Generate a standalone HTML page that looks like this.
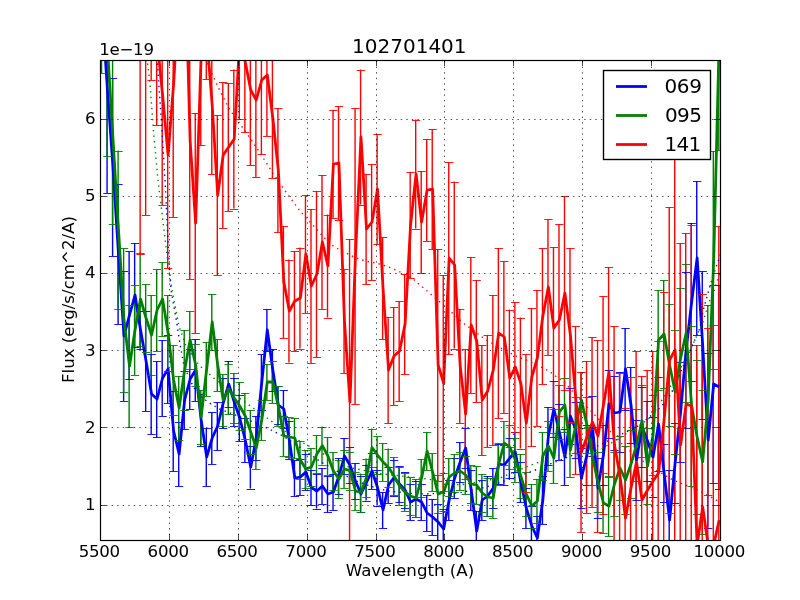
<!DOCTYPE html><html><head><meta charset="utf-8"><style>html,body{margin:0;padding:0;background:#fff;}svg{display:block;}text{font-family:"DejaVu Sans","Liberation Sans",sans-serif;fill:#000;}</style></head><body>
<svg width="800" height="600" viewBox="0 0 800 600">
<rect x="0" y="0" width="800" height="600" fill="#fff"/>
<defs><clipPath id="ax"><rect x="100" y="60" width="620" height="480"/></clipPath></defs>
<g clip-path="url(#ax)">
<path d="M101.57 -42V58M107.08 -13V193M112.59 78V256M118.1 184V324M123.61 271V401M129.12 251V379M134.63 243V347M140.14 311V349M145.66 311V411M151.17 354V434M156.68 361V437M162.19 340V416M167.7 335V403M173.21 391V471M178.72 422V486M184.23 371V429M189.74 349V409M195.25 339V401M200.77 394V446M206.28 428V486M211.79 412V464M217.3 402V450M222.81 378V428M228.32 361V407M233.83 378V426M239.34 395V441M244.85 418V462M250.36 445.5V488.5M255.87 416V460M261.39 354V410M266.9 309V351M272.41 349V391M277.92 386V424M283.43 390V428M288.94 421V459M294.45 460V496M299.96 459V495M305.47 454V490M310.99 470V505M316.5 473.5V508.5M322.01 468V504M327.52 476V512M333.03 474V510M338.54 458V494M344.05 438V474M349.56 447V483M355.07 463V499M360.58 476V512M366.1 464.5V500.5M371.61 453V489M377.12 469.5V505.5M382.63 492V528M388.14 467V503M393.65 459.5V495.5M399.16 466V502M404.67 472V508M410.18 484V520M415.69 481V517M421.21 484V520M426.72 495V531M432.23 499V535M437.74 504V540M443.25 509V549M448.76 480V520M454.27 458V498M459.78 442V482M465.29 428V468M470.8 470V510M476.32 511V551M481.83 480V520M487.34 476V516M492.85 468V508M498.36 444V484M503.87 445V485M509.38 438V478M514.89 432V472M520.4 462V502M525.91 488V528M531.43 506V546M536.94 516V560M542.45 476V524M547.96 407V465M553.47 381V437M558.98 404V460M564.49 429V485M570 388V444M575.51 402V458M581.02 448V508M586.53 425V485M592.05 396V456M597.56 458V518M603.07 425V485M608.58 370V438M614.09 376V450M619.6 372V452M625.11 328V410M630.62 367V443M636.13 420V500M641.64 387V467M647.16 401V481M652.67 417V497M658.18 377V471M663.69 444V502M669.2 470V570M674.71 423V503M680.22 362V462M685.73 272V428M691.24 223V381M696.75 181V335M702.27 271V419M707.78 352.5V527.5M713.29 285V483M718.8 285V489" stroke="#0000ff" stroke-width="1.39" fill="none"/>
<path d="M101.57 -159V73M107.08 -60V156M112.59 54V224M118.1 150.5V308.5M123.61 248V392M129.12 305V427M134.63 285V375M140.14 252.5V345.5M145.66 284V352M151.17 295V375M156.68 269V351M162.19 262V336M167.7 295V371M173.21 345V415M178.72 376V440M184.23 330V410M189.74 311V369M195.25 344V386M200.77 390V444M206.28 342V396M211.79 294V350M217.3 339V391M222.81 374V426M228.32 364V414M233.83 373V423M239.34 382V430M244.85 393V439M250.36 410V454M255.87 427V469M261.39 400V440M266.9 364V400M272.41 361V403M277.92 386V426M283.43 416V456M288.94 417V457M294.45 418V458M299.96 441V479M305.47 450V488M310.99 448V486M316.5 435V473M322.01 426.6V464.6M327.52 437V475M333.03 452V490M338.54 460V498M344.05 450V488M349.56 451.6V489.6M355.07 472V510M360.58 473.5V511.5M366.1 458.5V496.5M371.61 428.5V466.5M377.12 436V474M382.63 443V481M388.14 448.5V486.5M393.65 457V495M399.16 467V505M404.67 473V511M410.18 477V515M415.69 479V517M421.21 459V497M426.72 432V470M432.23 453V491M437.74 475V513M443.25 473V511M448.76 458V496M454.27 454V492M459.78 452V490M465.29 456V494M470.8 465V503M476.32 466V504M481.83 474V512M487.34 478V516M492.85 478V518M498.36 443V485M503.87 421V465M509.38 425V469M514.89 438V482M520.4 454V498M525.91 472V516M531.43 484V528M536.94 479V523M542.45 432V480M547.96 421V471M553.47 433V483M558.98 385V439M564.49 378V432M570 423V477M575.51 397V453M581.02 372V428M586.53 397V453M592.05 429V485M597.56 452V512M603.07 473V533M608.58 476V536M614.09 452V516M619.6 436V500M625.11 446V514M630.62 430V498M636.13 409V481M641.64 385V457M647.16 428V504M652.67 395V475M658.18 290V390M663.69 280V388M669.2 304V426M674.71 330V454M680.22 288V428M685.73 264V402M691.24 326V486M696.75 360V514M702.27 390V534M707.78 305V495M713.29 151V369M718.8 -70V150" stroke="#008000" stroke-width="1.39" fill="none"/>
<path d="M140.14 -274V254M145.66 -235V215M151.17 -40V80M156.68 -45V125M162.19 -15V205M167.7 42V268M173.21 -49V217M178.72 -55V35M184.23 -160V40M189.74 3V279M195.25 113V333M200.77 -35V145M206.28 -9V79M211.79 36V174M217.3 115V275M222.81 82V228M228.32 83V211M233.83 69.5V208.5M239.34 -39V119M244.85 -8V132M250.36 15V165M255.87 23V177M261.39 6V154M266.9 14V136M272.41 58V178M277.92 108V232M283.43 226V338M288.94 259.5V362.5M294.45 251V351M299.96 247.5V348.5M305.47 195V313M310.99 209V363M316.5 191V357M322.01 175V309M327.52 214.5V317.5M333.03 110V218M338.54 106V220M344.05 269V373M349.56 239V565M355.07 108V404M360.58 69.5V204.5M366.1 174V284M371.61 164V280M377.12 134V244M382.63 237V339M388.14 317V423M393.65 307V405M399.16 301V401M404.67 274V374M410.18 172V278M415.69 119.5V228.5M421.21 171V273M426.72 139V241M432.23 129V249M437.74 249V481M443.25 275V491M448.76 162V354M454.27 181.5V348.5M459.78 309V423M465.29 349V479M470.8 257V393M476.32 280V402M481.83 345V455M487.34 335V447M492.85 295V445M498.36 248V418M503.87 261V413M509.38 309.5V446.5M514.89 302V432M520.4 317.5V448.5M525.91 354V492M531.43 308V446M536.94 290V426M542.45 248V384M547.96 219V355M553.47 247V409M558.98 224V416M564.49 196V390M570 248V422M575.51 326V474M581.02 372V532M586.53 361V513M592.05 337V507M597.56 340V532M603.07 296V514M608.58 267V477M614.09 326V564M619.6 373V579M625.11 408V628M630.62 377V599M636.13 351V573M641.64 376V624M647.16 370V610M652.67 351V611M658.18 341V605M663.69 292V548M669.2 207V513M674.71 150V550M680.22 243V647M685.73 233V575M691.24 225V587M696.75 345V745M702.27 294V720M707.78 328V762M713.29 325V765M718.8 226V814" stroke="#ff0000" stroke-width="1.39" fill="none"/>
<polyline points="157,58 162,130 165,180 169,260 171,290 176,318 180,344 184,366 188.7,376.5 193,386 198.5,394.5 208,402 219.5,409 238,416 260,424.5 284,436.5 302.5,449 320.5,461.7 334.7,470 355,480.5 371.5,486.5 388,491 418,494 459,493 486,487 507,480 533,471 560,460 600,445 640,425 661,407 671,394 693,344 700,328 703,311 712,279 722,250" stroke="#0000ff" stroke-width="1.39" stroke-dasharray="1.39 4.17" fill="none"/>
<path d="M97.8 -41.5H106.14M97.8 58.5H106.14M103.31 -12.5H111.65M103.31 193.5H111.65M108.82 78.5H117.16M108.82 256.5H117.16M114.33 184.5H122.67M114.33 324.5H122.67M119.84 271.5H128.18M119.84 401.5H128.18M125.35 251.5H133.69M125.35 379.5H133.69M130.86 243.5H139.2M130.86 347.5H139.2M136.37 311.5H144.71M136.37 349.5H144.71M141.89 311.5H150.22M141.89 411.5H150.22M147.4 354.5H155.74M147.4 434.5H155.74M152.91 361.5H161.25M152.91 437.5H161.25M158.42 340.5H166.76M158.42 416.5H166.76M163.93 335.5H172.27M163.93 403.5H172.27M169.44 391.5H177.78M169.44 471.5H177.78M174.95 422.5H183.29M174.95 486.5H183.29M180.46 371.5H188.8M180.46 429.5H188.8M185.97 349.5H194.31M185.97 409.5H194.31M191.48 339.5H199.82M191.48 401.5H199.82M197 394.5H205.34M197 446.5H205.34M202.51 428.5H210.85M202.51 486.5H210.85M208.02 412.5H216.36M208.02 464.5H216.36M213.53 402.5H221.87M213.53 450.5H221.87M219.04 378.5H227.38M219.04 428.5H227.38M224.55 361.5H232.89M224.55 407.5H232.89M230.06 378.5H238.4M230.06 426.5H238.4M235.57 395.5H243.91M235.57 441.5H243.91M241.08 418.5H249.42M241.08 462.5H249.42M246.59 446.5H254.93M246.59 489.5H254.93M252.1 416.5H260.44M252.1 460.5H260.44M257.62 354.5H265.96M257.62 410.5H265.96M263.13 309.5H271.47M263.13 351.5H271.47M268.64 349.5H276.98M268.64 391.5H276.98M274.15 386.5H282.49M274.15 424.5H282.49M279.66 390.5H288M279.66 428.5H288M285.17 421.5H293.51M285.17 459.5H293.51M290.68 460.5H299.02M290.68 496.5H299.02M296.19 459.5H304.53M296.19 495.5H304.53M301.7 454.5H310.04M301.7 490.5H310.04M307.21 470.5H315.56M307.21 505.5H315.56M312.73 474.5H321.07M312.73 509.5H321.07M318.24 468.5H326.58M318.24 504.5H326.58M323.75 476.5H332.09M323.75 512.5H332.09M329.26 474.5H337.6M329.26 510.5H337.6M334.77 458.5H343.11M334.77 494.5H343.11M340.28 438.5H348.62M340.28 474.5H348.62M345.79 447.5H354.13M345.79 483.5H354.13M351.3 463.5H359.64M351.3 499.5H359.64M356.81 476.5H365.15M356.81 512.5H365.15M362.32 465.5H370.67M362.32 501.5H370.67M367.84 453.5H376.18M367.84 489.5H376.18M373.35 470.5H381.69M373.35 506.5H381.69M378.86 492.5H387.2M378.86 528.5H387.2M384.37 467.5H392.71M384.37 503.5H392.71M389.88 460.5H398.22M389.88 496.5H398.22M395.39 466.5H403.73M395.39 502.5H403.73M400.9 472.5H409.24M400.9 508.5H409.24M406.41 484.5H414.75M406.41 520.5H414.75M411.92 481.5H420.26M411.92 517.5H420.26M417.44 484.5H425.78M417.44 520.5H425.78M422.95 495.5H431.29M422.95 531.5H431.29M428.46 499.5H436.8M428.46 535.5H436.8M433.97 504.5H442.31M433.97 540.5H442.31M439.48 509.5H447.82M439.48 549.5H447.82M444.99 480.5H453.33M444.99 520.5H453.33M450.5 458.5H458.84M450.5 498.5H458.84M456.01 442.5H464.35M456.01 482.5H464.35M461.52 428.5H469.86M461.52 468.5H469.86M467.03 470.5H475.37M467.03 510.5H475.37M472.55 511.5H480.89M472.55 551.5H480.89M478.06 480.5H486.4M478.06 520.5H486.4M483.57 476.5H491.91M483.57 516.5H491.91M489.08 468.5H497.42M489.08 508.5H497.42M494.59 444.5H502.93M494.59 484.5H502.93M500.1 445.5H508.44M500.1 485.5H508.44M505.61 438.5H513.95M505.61 478.5H513.95M511.12 432.5H519.46M511.12 472.5H519.46M516.63 462.5H524.97M516.63 502.5H524.97M522.14 488.5H530.48M522.14 528.5H530.48M527.66 506.5H536M527.66 546.5H536M533.17 516.5H541.51M533.17 560.5H541.51M538.68 476.5H547.02M538.68 524.5H547.02M544.19 407.5H552.53M544.19 465.5H552.53M549.7 381.5H558.04M549.7 437.5H558.04M555.21 404.5H563.55M555.21 460.5H563.55M560.72 429.5H569.06M560.72 485.5H569.06M566.23 388.5H574.57M566.23 444.5H574.57M571.74 402.5H580.08M571.74 458.5H580.08M577.25 448.5H585.59M577.25 508.5H585.59M582.76 425.5H591.1M582.76 485.5H591.1M588.28 396.5H596.62M588.28 456.5H596.62M593.79 458.5H602.13M593.79 518.5H602.13M599.3 425.5H607.64M599.3 485.5H607.64M604.81 370.5H613.15M604.81 438.5H613.15M610.32 376.5H618.66M610.32 450.5H618.66M615.83 372.5H624.17M615.83 452.5H624.17M621.34 328.5H629.68M621.34 410.5H629.68M626.85 367.5H635.19M626.85 443.5H635.19M632.36 420.5H640.7M632.36 500.5H640.7M637.88 387.5H646.21M637.88 467.5H646.21M643.39 401.5H651.73M643.39 481.5H651.73M648.9 417.5H657.24M648.9 497.5H657.24M654.41 377.5H662.75M654.41 471.5H662.75M659.92 444.5H668.26M659.92 502.5H668.26M665.43 470.5H673.77M665.43 570.5H673.77M670.94 423.5H679.28M670.94 503.5H679.28M676.45 362.5H684.79M676.45 462.5H684.79M681.96 272.5H690.3M681.96 428.5H690.3M687.47 223.5H695.81M687.47 381.5H695.81M692.99 181.5H701.32M692.99 335.5H701.32M698.5 271.5H706.84M698.5 419.5H706.84M704.01 353.5H712.35M704.01 528.5H712.35M709.52 285.5H717.86M709.52 483.5H717.86M715.03 285.5H723.37M715.03 489.5H723.37" stroke="#0000ff" stroke-width="0.9" fill="none"/>
<polyline points="101.97,8 107.48,90 112.99,167 118.5,254 124.01,336 129.52,315 135.03,295 140.54,330 146.06,361 151.57,394 157.08,399 162.59,378 168.1,369 173.61,431 179.12,454 184.63,400 190.14,379 195.65,370 201.17,420 206.68,457 212.19,438 217.7,426 223.21,403 228.72,384 234.23,402 239.74,418 245.25,440 250.76,467 256.27,438 261.79,382 267.3,330 272.81,370 278.32,405 283.83,409 289.34,440 294.85,478 300.36,477 305.87,472 311.38,487.5 316.9,491 322.41,486 327.92,494 333.43,492 338.94,476 344.45,456 349.96,465 355.47,481 360.98,494 366.5,482.5 372.01,471 377.52,487.5 383.03,510 388.54,485 394.05,477.5 399.56,484 405.07,490 410.58,502 416.09,499 421.61,502 427.12,513 432.63,517 438.14,522 443.65,529 449.16,500 454.67,478 460.18,462 465.69,448 471.2,490 476.72,531 482.23,500 487.74,496 493.25,488 498.76,464 504.27,465 509.78,458 515.29,452 520.8,482 526.31,508 531.83,526 537.34,538 542.85,500 548.36,436 553.87,409 559.38,432 564.89,457 570.4,416 575.91,430 581.42,478 586.93,455 592.45,426 597.96,488 603.47,455 608.98,404 614.49,413 620,412 625.51,369 631.02,405 636.53,460 642.04,427 647.56,441 653.07,457 658.58,424 664.09,473 669.6,520 675.11,463 680.62,412 686.13,350 691.64,302 697.15,258 702.67,345 708.18,440 713.69,384 719.2,387" stroke="#0000ff" stroke-width="2.78" fill="none" stroke-linejoin="round" stroke-linecap="butt"/>
<polyline points="147,58 150,84 153.75,134 158,180 169,272 174,300 179,326 186,346 199,365 216,380 242,400 256,410 278,426 295,438.5 307,445 331,458 350,467.7 383,474 428,479 460,485 500,478 531,465 560,455 600,450 640,425 651,417 662,400 669,389 690,351 698,333 703,322 706,312 709,302 714,291 722,266" stroke="#008000" stroke-width="1.39" stroke-dasharray="1.39 4.17" fill="none"/>
<path d="M97.8 -158.5H106.14M97.8 73.5H106.14M103.31 -59.5H111.65M103.31 156.5H111.65M108.82 54.5H117.16M108.82 224.5H117.16M114.33 151.5H122.67M114.33 309.5H122.67M119.84 248.5H128.18M119.84 392.5H128.18M125.35 305.5H133.69M125.35 427.5H133.69M130.86 285.5H139.2M130.86 375.5H139.2M136.37 253.5H144.71M136.37 346.5H144.71M141.89 284.5H150.22M141.89 352.5H150.22M147.4 295.5H155.74M147.4 375.5H155.74M152.91 269.5H161.25M152.91 351.5H161.25M158.42 262.5H166.76M158.42 336.5H166.76M163.93 295.5H172.27M163.93 371.5H172.27M169.44 345.5H177.78M169.44 415.5H177.78M174.95 376.5H183.29M174.95 440.5H183.29M180.46 330.5H188.8M180.46 410.5H188.8M185.97 311.5H194.31M185.97 369.5H194.31M191.48 344.5H199.82M191.48 386.5H199.82M197 390.5H205.34M197 444.5H205.34M202.51 342.5H210.85M202.51 396.5H210.85M208.02 294.5H216.36M208.02 350.5H216.36M213.53 339.5H221.87M213.53 391.5H221.87M219.04 374.5H227.38M219.04 426.5H227.38M224.55 364.5H232.89M224.55 414.5H232.89M230.06 373.5H238.4M230.06 423.5H238.4M235.57 382.5H243.91M235.57 430.5H243.91M241.08 393.5H249.42M241.08 439.5H249.42M246.59 410.5H254.93M246.59 454.5H254.93M252.1 427.5H260.44M252.1 469.5H260.44M257.62 400.5H265.96M257.62 440.5H265.96M263.13 364.5H271.47M263.13 400.5H271.47M268.64 361.5H276.98M268.64 403.5H276.98M274.15 386.5H282.49M274.15 426.5H282.49M279.66 416.5H288M279.66 456.5H288M285.17 417.5H293.51M285.17 457.5H293.51M290.68 418.5H299.02M290.68 458.5H299.02M296.19 441.5H304.53M296.19 479.5H304.53M301.7 450.5H310.04M301.7 488.5H310.04M307.21 448.5H315.56M307.21 486.5H315.56M312.73 435.5H321.07M312.73 473.5H321.07M318.24 427.5H326.58M318.24 465.5H326.58M323.75 437.5H332.09M323.75 475.5H332.09M329.26 452.5H337.6M329.26 490.5H337.6M334.77 460.5H343.11M334.77 498.5H343.11M340.28 450.5H348.62M340.28 488.5H348.62M345.79 452.5H354.13M345.79 490.5H354.13M351.3 472.5H359.64M351.3 510.5H359.64M356.81 474.5H365.15M356.81 512.5H365.15M362.32 459.5H370.67M362.32 497.5H370.67M367.84 429.5H376.18M367.84 467.5H376.18M373.35 436.5H381.69M373.35 474.5H381.69M378.86 443.5H387.2M378.86 481.5H387.2M384.37 449.5H392.71M384.37 487.5H392.71M389.88 457.5H398.22M389.88 495.5H398.22M395.39 467.5H403.73M395.39 505.5H403.73M400.9 473.5H409.24M400.9 511.5H409.24M406.41 477.5H414.75M406.41 515.5H414.75M411.92 479.5H420.26M411.92 517.5H420.26M417.44 459.5H425.78M417.44 497.5H425.78M422.95 432.5H431.29M422.95 470.5H431.29M428.46 453.5H436.8M428.46 491.5H436.8M433.97 475.5H442.31M433.97 513.5H442.31M439.48 473.5H447.82M439.48 511.5H447.82M444.99 458.5H453.33M444.99 496.5H453.33M450.5 454.5H458.84M450.5 492.5H458.84M456.01 452.5H464.35M456.01 490.5H464.35M461.52 456.5H469.86M461.52 494.5H469.86M467.03 465.5H475.37M467.03 503.5H475.37M472.55 466.5H480.89M472.55 504.5H480.89M478.06 474.5H486.4M478.06 512.5H486.4M483.57 478.5H491.91M483.57 516.5H491.91M489.08 478.5H497.42M489.08 518.5H497.42M494.59 443.5H502.93M494.59 485.5H502.93M500.1 421.5H508.44M500.1 465.5H508.44M505.61 425.5H513.95M505.61 469.5H513.95M511.12 438.5H519.46M511.12 482.5H519.46M516.63 454.5H524.97M516.63 498.5H524.97M522.14 472.5H530.48M522.14 516.5H530.48M527.66 484.5H536M527.66 528.5H536M533.17 479.5H541.51M533.17 523.5H541.51M538.68 432.5H547.02M538.68 480.5H547.02M544.19 421.5H552.53M544.19 471.5H552.53M549.7 433.5H558.04M549.7 483.5H558.04M555.21 385.5H563.55M555.21 439.5H563.55M560.72 378.5H569.06M560.72 432.5H569.06M566.23 423.5H574.57M566.23 477.5H574.57M571.74 397.5H580.08M571.74 453.5H580.08M577.25 372.5H585.59M577.25 428.5H585.59M582.76 397.5H591.1M582.76 453.5H591.1M588.28 429.5H596.62M588.28 485.5H596.62M593.79 452.5H602.13M593.79 512.5H602.13M599.3 473.5H607.64M599.3 533.5H607.64M604.81 476.5H613.15M604.81 536.5H613.15M610.32 452.5H618.66M610.32 516.5H618.66M615.83 436.5H624.17M615.83 500.5H624.17M621.34 446.5H629.68M621.34 514.5H629.68M626.85 430.5H635.19M626.85 498.5H635.19M632.36 409.5H640.7M632.36 481.5H640.7M637.88 385.5H646.21M637.88 457.5H646.21M643.39 428.5H651.73M643.39 504.5H651.73M648.9 395.5H657.24M648.9 475.5H657.24M654.41 290.5H662.75M654.41 390.5H662.75M659.92 280.5H668.26M659.92 388.5H668.26M665.43 304.5H673.77M665.43 426.5H673.77M670.94 330.5H679.28M670.94 454.5H679.28M676.45 288.5H684.79M676.45 428.5H684.79M681.96 264.5H690.3M681.96 402.5H690.3M687.47 326.5H695.81M687.47 486.5H695.81M692.99 360.5H701.32M692.99 514.5H701.32M698.5 390.5H706.84M698.5 534.5H706.84M704.01 305.5H712.35M704.01 495.5H712.35M709.52 151.5H717.86M709.52 369.5H717.86M715.03 -69.5H723.37M715.03 150.5H723.37" stroke="#008000" stroke-width="0.9" fill="none"/>
<polyline points="101.97,-43 107.48,48 112.99,139 118.5,229.5 124.01,320 129.52,366 135.03,330 140.54,299 146.06,318 151.57,335 157.08,310 162.59,299 168.1,333 173.61,380 179.12,408 184.63,370 190.14,340 195.65,365 201.17,417 206.68,369 212.19,322 217.7,365 223.21,400 228.72,389 234.23,398 239.74,406 245.25,416 250.76,432 256.27,448 261.79,420 267.3,382 272.81,382 278.32,406 283.83,436 289.34,437 294.85,438 300.36,460 305.87,469 311.38,467 316.9,454 322.41,445.6 327.92,456 333.43,471 338.94,479 344.45,469 349.96,470.6 355.47,491 360.98,492.5 366.5,477.5 372.01,447.5 377.52,455 383.03,462 388.54,467.5 394.05,476 399.56,486 405.07,492 410.58,496 416.09,498 421.61,478 427.12,451 432.63,472 438.14,494 443.65,492 449.16,477 454.67,473 460.18,471 465.69,475 471.2,484 476.72,485 482.23,493 487.74,497 493.25,498 498.76,464 504.27,443 509.78,447 515.29,460 520.8,476 526.31,494 531.83,506 537.34,501 542.85,456 548.36,446 553.87,458 559.38,412 564.89,405 570.4,450 575.91,425 581.42,400 586.93,425 592.45,457 597.96,482 603.47,503 608.98,506 614.49,484 620,468 625.51,480 631.02,464 636.53,445 642.04,421 647.56,466 653.07,435 658.58,340 664.09,334 669.6,365 675.11,392 680.62,358 686.13,333 691.64,406 697.15,437 702.67,462 708.18,400 713.69,260 719.2,40" stroke="#008000" stroke-width="2.78" fill="none" stroke-linejoin="round" stroke-linecap="butt"/>
<polyline points="205,58 213,76 220,91 230,110 240,124 250,138 262,156 274,175 286,192 300,211 311,223 320,233 330,244 340,250 354,257 365,261 376,263 386,266 396,270 404,274 412,278 420,285 433,296 441,303 449,310 462,322 474,331 485,339 495,345 508,352 518,357 529,361 539,366 549,371 558,378 563,381 590,410 623,445 649,466 673,480 698,490 718,501 722,503" stroke="#ff0000" stroke-width="1.39" stroke-dasharray="1.39 4.17" fill="none"/>
<path d="M136.37 -273.5H144.71M136.37 254.5H144.71M141.89 -234.5H150.22M141.89 215.5H150.22M147.4 -39.5H155.74M147.4 80.5H155.74M152.91 -44.5H161.25M152.91 125.5H161.25M158.42 -14.5H166.76M158.42 205.5H166.76M163.93 42.5H172.27M163.93 268.5H172.27M169.44 -48.5H177.78M169.44 217.5H177.78M174.95 -54.5H183.29M174.95 35.5H183.29M180.46 -159.5H188.8M180.46 40.5H188.8M185.97 3.5H194.31M185.97 279.5H194.31M191.48 113.5H199.82M191.48 333.5H199.82M197 -34.5H205.34M197 145.5H205.34M202.51 -8.5H210.85M202.51 79.5H210.85M208.02 36.5H216.36M208.02 174.5H216.36M213.53 115.5H221.87M213.53 275.5H221.87M219.04 82.5H227.38M219.04 228.5H227.38M224.55 83.5H232.89M224.55 211.5H232.89M230.06 70.5H238.4M230.06 209.5H238.4M235.57 -38.5H243.91M235.57 119.5H243.91M241.08 -7.5H249.42M241.08 132.5H249.42M246.59 15.5H254.93M246.59 165.5H254.93M252.1 23.5H260.44M252.1 177.5H260.44M257.62 6.5H265.96M257.62 154.5H265.96M263.13 14.5H271.47M263.13 136.5H271.47M268.64 58.5H276.98M268.64 178.5H276.98M274.15 108.5H282.49M274.15 232.5H282.49M279.66 226.5H288M279.66 338.5H288M285.17 260.5H293.51M285.17 363.5H293.51M290.68 251.5H299.02M290.68 351.5H299.02M296.19 248.5H304.53M296.19 349.5H304.53M301.7 195.5H310.04M301.7 313.5H310.04M307.21 209.5H315.56M307.21 363.5H315.56M312.73 191.5H321.07M312.73 357.5H321.07M318.24 175.5H326.58M318.24 309.5H326.58M323.75 215.5H332.09M323.75 318.5H332.09M329.26 110.5H337.6M329.26 218.5H337.6M334.77 106.5H343.11M334.77 220.5H343.11M340.28 269.5H348.62M340.28 373.5H348.62M345.79 239.5H354.13M345.79 565.5H354.13M351.3 108.5H359.64M351.3 404.5H359.64M356.81 70.5H365.15M356.81 205.5H365.15M362.32 174.5H370.67M362.32 284.5H370.67M367.84 164.5H376.18M367.84 280.5H376.18M373.35 134.5H381.69M373.35 244.5H381.69M378.86 237.5H387.2M378.86 339.5H387.2M384.37 317.5H392.71M384.37 423.5H392.71M389.88 307.5H398.22M389.88 405.5H398.22M395.39 301.5H403.73M395.39 401.5H403.73M400.9 274.5H409.24M400.9 374.5H409.24M406.41 172.5H414.75M406.41 278.5H414.75M411.92 120.5H420.26M411.92 229.5H420.26M417.44 171.5H425.78M417.44 273.5H425.78M422.95 139.5H431.29M422.95 241.5H431.29M428.46 129.5H436.8M428.46 249.5H436.8M433.97 249.5H442.31M433.97 481.5H442.31M439.48 275.5H447.82M439.48 491.5H447.82M444.99 162.5H453.33M444.99 354.5H453.33M450.5 182.5H458.84M450.5 349.5H458.84M456.01 309.5H464.35M456.01 423.5H464.35M461.52 349.5H469.86M461.52 479.5H469.86M467.03 257.5H475.37M467.03 393.5H475.37M472.55 280.5H480.89M472.55 402.5H480.89M478.06 345.5H486.4M478.06 455.5H486.4M483.57 335.5H491.91M483.57 447.5H491.91M489.08 295.5H497.42M489.08 445.5H497.42M494.59 248.5H502.93M494.59 418.5H502.93M500.1 261.5H508.44M500.1 413.5H508.44M505.61 310.5H513.95M505.61 447.5H513.95M511.12 302.5H519.46M511.12 432.5H519.46M516.63 318.5H524.97M516.63 449.5H524.97M522.14 354.5H530.48M522.14 492.5H530.48M527.66 308.5H536M527.66 446.5H536M533.17 290.5H541.51M533.17 426.5H541.51M538.68 248.5H547.02M538.68 384.5H547.02M544.19 219.5H552.53M544.19 355.5H552.53M549.7 247.5H558.04M549.7 409.5H558.04M555.21 224.5H563.55M555.21 416.5H563.55M560.72 196.5H569.06M560.72 390.5H569.06M566.23 248.5H574.57M566.23 422.5H574.57M571.74 326.5H580.08M571.74 474.5H580.08M577.25 372.5H585.59M577.25 532.5H585.59M582.76 361.5H591.1M582.76 513.5H591.1M588.28 337.5H596.62M588.28 507.5H596.62M593.79 340.5H602.13M593.79 532.5H602.13M599.3 296.5H607.64M599.3 514.5H607.64M604.81 267.5H613.15M604.81 477.5H613.15M610.32 326.5H618.66M610.32 564.5H618.66M615.83 373.5H624.17M615.83 579.5H624.17M621.34 408.5H629.68M621.34 628.5H629.68M626.85 377.5H635.19M626.85 599.5H635.19M632.36 351.5H640.7M632.36 573.5H640.7M637.88 376.5H646.21M637.88 624.5H646.21M643.39 370.5H651.73M643.39 610.5H651.73M648.9 351.5H657.24M648.9 611.5H657.24M654.41 341.5H662.75M654.41 605.5H662.75M659.92 292.5H668.26M659.92 548.5H668.26M665.43 207.5H673.77M665.43 513.5H673.77M670.94 150.5H679.28M670.94 550.5H679.28M676.45 243.5H684.79M676.45 647.5H684.79M681.96 233.5H690.3M681.96 575.5H690.3M687.47 225.5H695.81M687.47 587.5H695.81M692.99 345.5H701.32M692.99 745.5H701.32M698.5 294.5H706.84M698.5 720.5H706.84M704.01 328.5H712.35M704.01 762.5H712.35M709.52 325.5H717.86M709.52 765.5H717.86M715.03 226.5H723.37M715.03 814.5H723.37" stroke="#ff0000" stroke-width="0.9" fill="none"/>
<polyline points="140.54,-10 146.06,-10 151.57,20 157.08,40 162.59,95 168.1,155 173.61,84 179.12,-10 184.63,-60 190.14,141 195.65,223 201.17,55 206.68,35 212.19,105 217.7,195 223.21,155 228.72,147 234.23,139 239.74,40 245.25,62 250.76,90 256.27,100 261.79,80 267.3,75 272.81,118 278.32,170 283.83,282 289.34,311 294.85,301 300.36,298 305.87,254 311.38,286 316.9,274 322.41,242 327.92,266 333.43,164 338.94,163 344.45,321 349.96,402 355.47,256 360.98,137 366.5,229 372.01,222 377.52,189 383.03,288 388.54,370 394.05,356 399.56,351 405.07,324 410.58,225 416.09,174 421.61,222 427.12,190 432.63,189 438.14,365 443.65,383 449.16,258 454.67,265 460.18,366 465.69,414 471.2,325 476.72,341 482.23,400 487.74,391 493.25,370 498.76,333 504.27,337 509.78,378 515.29,367 520.8,383 526.31,423 531.83,377 537.34,358 542.85,316 548.36,287 553.87,328 559.38,320 564.89,293 570.4,335 575.91,400 581.42,452 586.93,437 592.45,422 597.96,436 603.47,405 608.98,372 614.49,445 620,476 625.51,518 631.02,488 636.53,462 642.04,500 647.56,490 653.07,481 658.58,473 664.09,420 669.6,360 675.11,350 680.62,445 686.13,404 691.64,406 697.15,545 702.67,507 708.18,545 713.69,545 719.2,520" stroke="#ff0000" stroke-width="2.78" fill="none" stroke-linejoin="round" stroke-linecap="butt"/>
<path d="M169.5 540.6V60M238.5 540.6V60M307.5 540.6V60M376.5 540.6V60M444.5 540.6V60M513.5 540.6V60M582.5 540.6V60M651.5 540.6V60M100.5 505.5H720M100.5 427.5H720M100.5 350.5H720M100.5 273.5H720M100.5 196.5H720M100.5 119.5H720" stroke="#000" stroke-width="0.7" stroke-dasharray="1.39 4.17" fill="none"/>
</g>
<path d="M100.5 540V534M100.5 60V66M169.5 540V534M169.5 60V66M238.5 540V534M238.5 60V66M307.5 540V534M307.5 60V66M376.5 540V534M376.5 60V66M444.5 540V534M444.5 60V66M513.5 540V534M513.5 60V66M582.5 540V534M582.5 60V66M651.5 540V534M651.5 60V66M720.5 540V534M720.5 60V66M100 505.5H106M720 505.5H714M100 427.5H106M720 427.5H714M100 350.5H106M720 350.5H714M100 273.5H106M720 273.5H714M100 196.5H106M720 196.5H714M100 119.5H106M720 119.5H714" stroke="#000" stroke-width="0.7" fill="none"/>
<rect x="100.5" y="60.5" width="620" height="480" fill="none" stroke="#000" stroke-width="1.2"/>
<text x="99.3" y="557" font-size="16.67" text-anchor="middle" letter-spacing="-0.3">5500</text>
<text x="168.19" y="557" font-size="16.67" text-anchor="middle" letter-spacing="-0.3">6000</text>
<text x="237.08" y="557" font-size="16.67" text-anchor="middle" letter-spacing="-0.3">6500</text>
<text x="305.97" y="557" font-size="16.67" text-anchor="middle" letter-spacing="-0.3">7000</text>
<text x="374.86" y="557" font-size="16.67" text-anchor="middle" letter-spacing="-0.3">7500</text>
<text x="443.74" y="557" font-size="16.67" text-anchor="middle" letter-spacing="-0.3">8000</text>
<text x="512.63" y="557" font-size="16.67" text-anchor="middle" letter-spacing="-0.3">8500</text>
<text x="581.52" y="557" font-size="16.67" text-anchor="middle" letter-spacing="-0.3">9000</text>
<text x="650.41" y="557" font-size="16.67" text-anchor="middle" letter-spacing="-0.3">9500</text>
<text x="719.3" y="557" font-size="16.67" text-anchor="middle" letter-spacing="-0.3">10000</text>
<text x="95.5" y="509.9" font-size="16.67" text-anchor="end">1</text>
<text x="95.5" y="432.7" font-size="16.67" text-anchor="end">2</text>
<text x="95.5" y="355.5" font-size="16.67" text-anchor="end">3</text>
<text x="95.5" y="278.3" font-size="16.67" text-anchor="end">4</text>
<text x="95.5" y="201.1" font-size="16.67" text-anchor="end">5</text>
<text x="95.5" y="123.9" font-size="16.67" text-anchor="end">6</text>
<text x="99.2" y="55" font-size="16.67" letter-spacing="-0.3">1e−19</text>
<text x="409.3" y="53.3" font-size="20" text-anchor="middle">102701401</text>
<text x="410" y="576" font-size="16.67" text-anchor="middle">Wavelength (A)</text>
<text transform="translate(73.5 299.5) rotate(-90)" x="0" y="0" font-size="16.67" text-anchor="middle">Flux (erg/s/cm^2/A)</text>
<rect x="603.5" y="70.5" width="107" height="89" fill="#fff" stroke="#000" stroke-width="1.39"/>
<path d="M616 86.5H647" stroke="#0000ff" stroke-width="2.78"/>
<text x="664.5" y="93" font-size="20" letter-spacing="-0.4">069</text>
<path d="M616 115.5H647" stroke="#008000" stroke-width="2.78"/>
<text x="664.9" y="122" font-size="20" letter-spacing="-0.5">095</text>
<path d="M616 144.5H647" stroke="#ff0000" stroke-width="2.78"/>
<text x="664.5" y="151" font-size="20" letter-spacing="-0.75">141</text>
</svg></body></html>
